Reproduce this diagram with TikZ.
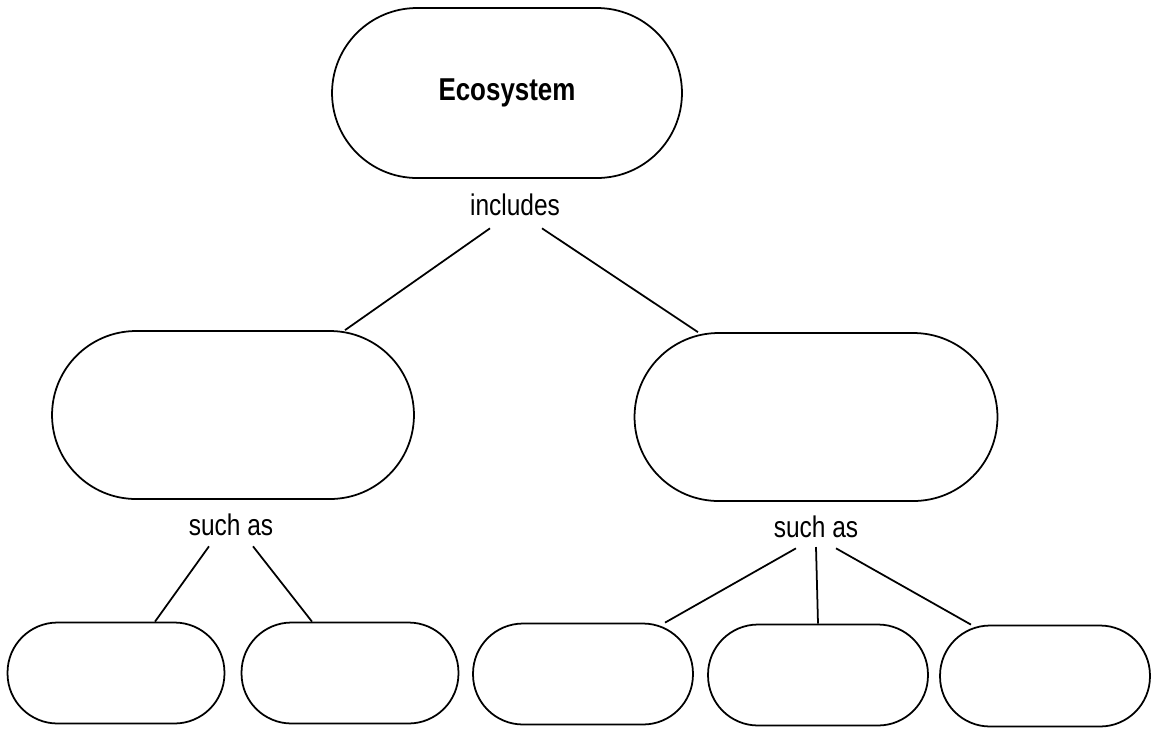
\documentclass[tikz,border=0pt]{standalone}
\usepackage{fontspec}
\setmainfont{Liberation Sans}[FakeStretch=0.82]
\usetikzlibrary{calc}
\begin{document}
\begin{tikzpicture}[x=0.02cm,y=-0.02cm,
  bubble/.style={draw,line width=1pt,inner sep=0pt},
  word/.style={font=\fontsize{17}{20}\selectfont,inner sep=0pt}]
\useasboundingbox (0,0) rectangle (1153,728);
\node[bubble,rounded corners=1.7cm,minimum width=7cm,minimum height=3.4cm,
  font=\fontsize{18}{22}\selectfont\bfseries] (eco) at (507,93) {Ecosystem};
\node[word] (inc) at (515,205) {includes};
\node[bubble,rounded corners=1.68cm,minimum width=7.24cm,minimum height=3.36cm] (midL) at (233,415) {};
\node[bubble,rounded corners=1.68cm,minimum width=7.26cm,minimum height=3.36cm] (midR) at (816,417) {};
\node[word] (suchL) at (231,525) {such as};
\node[word] (suchR) at (816,527) {such as};
\node[bubble,rounded corners=1cm,minimum width=4.34cm,minimum height=2.02cm] (b1) at (116,673) {};
\node[bubble,rounded corners=1cm,minimum width=4.34cm,minimum height=2.02cm] (b2) at (350,673) {};
\node[bubble,rounded corners=1cm,minimum width=4.4cm,minimum height=2.02cm] (b3) at (583,674) {};
\node[bubble,rounded corners=1cm,minimum width=4.4cm,minimum height=2.02cm] (b4) at (818,675) {};
\node[bubble,rounded corners=1cm,minimum width=4.2cm,minimum height=2.02cm] (b5) at (1045,676) {};
\draw[line width=1pt] ($(inc.south)+(-25,12)$) -- ($(midL.north)+(112,0)$);
\draw[line width=1pt] ($(inc.south)+(27,12)$) -- ($(midR.north)+(-118,0)$);
\draw[line width=1pt] ($(suchL.south)+(-22,10)$) -- ($(b1.north)+(39,0)$);
\draw[line width=1pt] ($(suchL.south)+(22,10)$) -- ($(b2.north)+(-38,0)$);
\draw[line width=1pt] ($(suchR.south)+(-20,10)$) -- ($(b3.north)+(82,0)$);
\draw[line width=1pt] (suchR.south |- 0,547) -- (b4.north);
\draw[line width=1pt] ($(suchR.south)+(20,10)$) -- ($(b5.north)+(-74,0)$);
\end{tikzpicture}
\end{document}
